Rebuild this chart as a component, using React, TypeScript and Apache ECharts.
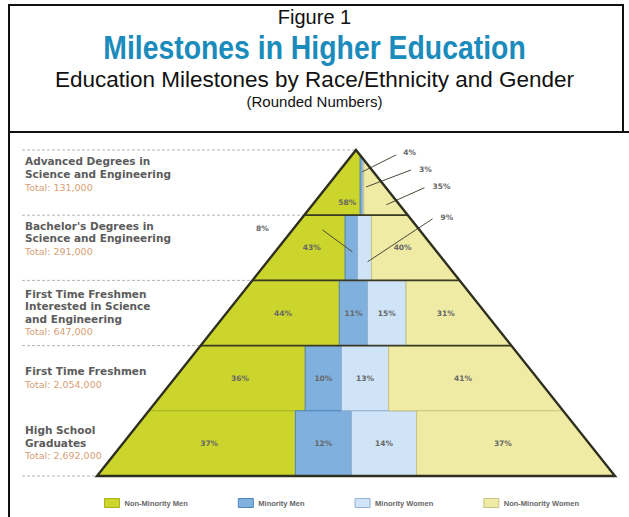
import React, { useEffect, useRef } from "react";
import * as echarts from "echarts";

// ---------- data ----------
const tierNames = [
  ["Advanced Degrees in", "Science and Engineering"],
  ["Bachelor's Degrees in", "Science and Engineering"],
  ["First Time Freshmen", "Interested in Science", "and Engineering"],
  ["First Time Freshmen"],
  ["High School", "Graduates"],
];
const tierTotals = ["Total: 131,000", "Total: 291,000", "Total: 647,000", "Total: 2,054,000", "Total: 2,692,000"];
const groups = ["Non-Minority Men", "Minority Men", "Minority Women", "Non-Minority Women"];
const nonMinorityMen = [58, 43, 44, 36, 37];
const minorityMen = [4, 8, 11, 10, 12];
const minorityWomen = [3, 9, 15, 13, 14];
const nonMinorityWomen = [35, 40, 31, 41, 37];
const groupValues = [nonMinorityMen, minorityMen, minorityWomen, nonMinorityWomen];

// ---------- style / layout ----------
const COLORS = ["#cbd52b", "#80b1de", "#cfe4f7", "#efeba4"];
const STROKES = ["#aab322", "#4f86bd", "#93b3d2", "#c9c384"];
const LEFT_LABEL_DY = [-8, -9, 0, 0, 0];
const LABEL_Y_FRAC = [0.2, 0.5, 0.5, 0.5, 0.5];
const CALLOUTS = [
  { tier: 0, group: 1, lx: 42, ly: -33, sx: 35, sy: -31, ex: 1, ey: -14, align: "left" },
  { tier: 0, group: 2, lx: 56, ly: -18, sx: 48, sy: -17, ex: 3, ey: 0, align: "left" },
  { tier: 0, group: 3, lx: 54, ly: -10, sx: 46, sy: -9, ex: 8, ey: 8, align: "left" },
  { tier: 1, group: 1, lx: -89, ly: -19, sx: -29, sy: -18, ex: 1, ey: 4, align: "center" },
  { tier: 1, group: 2, lx: 76, ly: -30, sx: 68, sy: -29, ex: 3, ey: 14, align: "left" },
];
const NT = tierNames.length;
const HALF = 50;
const LABEL_FONT = "DejaVu Sans, Verdana, sans-serif";
const ARIAL = "Arial, 'Liberation Sans', sans-serif";

function clip(poly: number[][], a: number, b: number, c: number) {
  const out: number[][] = [];
  for (let k = 0; k < poly.length; k++) {
    const P = poly[k];
    const Q = poly[(k + 1) % poly.length];
    const fp = a * P[0] + b * P[1] + c;
    const fq = a * Q[0] + b * Q[1] + c;
    if (fp >= 0) out.push(P);
    if (fp >= 0 !== fq >= 0) {
      const t = fp / (fp - fq);
      out.push([P[0] + t * (Q[0] - P[0]), P[1] + t * (Q[1] - P[1])]);
    }
  }
  return out;
}

function segmentPolygon(tier: number, group: number) {
  const yb = NT - 1 - tier;
  const yt = NT - tier;
  const ym = (yb + yt) / 2;
  const k = HALF / NT;
  const hw = k * (NT - ym);
  const vals = groupValues.map((v) => v[tier]);
  const sum = vals.reduce((s, v) => s + v, 0);
  let cum = 0;
  for (let g = 0; g < group; g++) cum += vals[g];
  const xa = group === 0 ? -HALF - 10 : -hw + (2 * hw * cum) / sum;
  const xb = group === vals.length - 1 ? HALF + 10 : -hw + (2 * hw * (cum + vals[group])) / sum;
  let poly = [
    [xa, yb],
    [xb, yb],
    [xb, yt],
    [xa, yt],
  ];
  poly = clip(poly, 1, -k, HALF);
  poly = clip(poly, -1, -k, HALF);
  return { poly, yb, yt };
}

export default function App() {
  const ref = useRef<HTMLDivElement>(null);
  useEffect(() => {
    if (!ref.current) return;
    const chart = echarts.init(ref.current, null, { renderer: "svg" });

    const groupSeries = groups.map((name, g) => ({
      type: "custom",
      name,
      coordinateSystem: "cartesian2d",
      clip: false,
      itemStyle: { color: COLORS[g] },
      z: 2,
      data: groupValues[g].map((v, i) => [i, v]),
      renderItem: (params: any, api: any) => {
        const tier = params.dataIndex;
        const { poly, yb } = segmentPolygon(tier, g);
        const pts = poly.map((p) => api.coord(p));
        if (!pts.length) return null;
        const cx = pts.reduce((s, p) => s + p[0], 0) / pts.length;
        const cy = pts.reduce((s, p) => s + p[1], 0) / pts.length;
        const children: any[] = [
          {
            type: "polygon",
            shape: { points: pts },
            style: { fill: COLORS[g], stroke: STROKES[g], lineWidth: 1 },
          },
        ];
        const text = api.value(1) + "%";
        const co = CALLOUTS.find((c) => c.tier === tier && c.group === g);
        const tstyle = {
          text,
          fill: "#666",
          fontSize: 7.5,
          fontWeight: "bold",
          fontFamily: LABEL_FONT,
          verticalAlign: "middle",
        };
        if (co) {
          children.push({
            type: "line",
            shape: { x1: cx + co.sx, y1: cy + co.sy, x2: cx + co.ex, y2: cy + co.ey },
            style: { stroke: "#4a4a3a", lineWidth: 1 },
            z2: 20,
          });
          children.push({
            type: "text",
            x: cx + co.lx,
            y: cy + co.ly,
            z2: 20,
            style: { ...tstyle, align: co.align },
          });
        } else {
          const ly = api.coord([0, yb + LABEL_Y_FRAC[tier]])[1];
          children.push({
            type: "text",
            x: cx,
            y: ly,
            z2: 20,
            style: { ...tstyle, align: "center" },
          });
        }
        return { type: "group", children };
      },
    }));

    const frameSeries = {
      type: "custom",
      name: "frame",
      coordinateSystem: "cartesian2d",
      clip: false,
      silent: true,
      z: 5,
      data: [[0, 0]],
      renderItem: (_params: any, api: any) => {
        const k = HALF / NT;
        const children: any[] = [];
        const left = api.coord([-HALF, 0]);
        const apex = api.coord([0, NT]);
        const right = api.coord([HALF, 0]);
        [NT, NT - 1, NT - 2, NT - 3, 0].forEach((y) => {
          const p = api.coord([-k * (NT - y), y]);
          children.push({
            type: "line",
            shape: { x1: 22, y1: p[1], x2: p[0], y2: p[1] },
            style: { stroke: "#b5b5b5", lineWidth: 1, lineDash: [3, 2] },
          });
        });
        [NT - 1, NT - 2, NT - 3].forEach((y) => {
          const a = api.coord([-k * (NT - y), y]);
          const b = api.coord([k * (NT - y), y]);
          children.push({
            type: "line",
            shape: { x1: a[0], y1: a[1], x2: b[0], y2: b[1] },
            style: { stroke: "#3a3a22", lineWidth: 1.8 },
          });
        });
        children.push({
          type: "polygon",
          shape: { points: [left, apex, right] },
          style: { fill: "none", stroke: "#2f2f1f", lineWidth: 2.4 },
        });
        tierNames.forEach((lines, i) => {
          const yc = api.coord([0, NT - i - 0.5])[1] + LEFT_LABEL_DY[i];
          const txt = lines.map((l) => "{n|" + l + "}").join("\n") + "\n{t|" + tierTotals[i] + "}";
          children.push({
            type: "text",
            x: 25,
            y: yc,
            style: {
              text: txt,
              align: "left",
              verticalAlign: "middle",
              rich: {
                n: { fontSize: 10.5, fontWeight: "bold", fill: "#5c5c5c", fontFamily: LABEL_FONT, lineHeight: 12.5 },
                t: { fontSize: 9.5, fill: "#d6a074", fontFamily: LABEL_FONT, lineHeight: 14 },
              },
            },
          });
        });
        return { type: "group", children };
      },
    };

    const CX = 314.5;
    chart.setOption({
      animation: false,
      backgroundColor: "#ffffff",
      grid: { left: 97, right: 14, top: 150, bottom: 41 },
      xAxis: { type: "value", min: -HALF, max: HALF, show: false },
      yAxis: { type: "value", min: 0, max: NT, show: false },
      legend: {
        data: groups.map((name, g) => ({
          name,
          itemStyle: { color: COLORS[g], borderColor: STROKES[g], borderWidth: 1 },
        })),
        left: 99,
        top: 493,
        icon: "rect",
        itemWidth: 15,
        itemHeight: 9,
        itemGap: 50,
        selectedMode: false,
        textStyle: { fontSize: 7.5, fontWeight: "bold", color: "#666", fontFamily: ARIAL },
      },
      graphic: [
        { type: "line", shape: { x1: 9, y1: 5, x2: 623, y2: 5 }, style: { stroke: "#111", lineWidth: 2 } },
        { type: "line", shape: { x1: 9, y1: 4, x2: 9, y2: 517 }, style: { stroke: "#111", lineWidth: 2 } },
        { type: "line", shape: { x1: 623, y1: 4, x2: 623, y2: 132 }, style: { stroke: "#111", lineWidth: 2 } },
        { type: "line", shape: { x1: 9, y1: 132, x2: 629, y2: 132 }, style: { stroke: "#111", lineWidth: 2 } },
        {
          type: "text",
          x: CX,
          y: 17,
          style: { text: "Figure 1", fontSize: 20, fill: "#111", fontFamily: ARIAL, align: "center", verticalAlign: "middle" },
        },
        {
          type: "text",
          x: CX,
          y: 48,
          scaleX: 0.86,
          style: {
            text: "Milestones in Higher Education",
            fontSize: 33,
            fontWeight: "bold",
            fill: "#1a8bbb",
            fontFamily: ARIAL,
            align: "center",
            verticalAlign: "middle",
          },
        },
        {
          type: "text",
          x: CX,
          y: 79,
          style: {
            text: "Education Milestones by Race/Ethnicity and Gender",
            fontSize: 22.5,
            fill: "#111",
            fontFamily: ARIAL,
            align: "center",
            verticalAlign: "middle",
          },
        },
        {
          type: "text",
          x: CX,
          y: 101,
          style: {
            text: "(Rounded Numbers)",
            fontSize: 15,
            fill: "#111",
            fontFamily: ARIAL,
            align: "center",
            verticalAlign: "middle",
          },
        },
      ],
      series: [...groupSeries, frameSeries],
    });
    return () => chart.dispose();
  }, []);
  return <div ref={ref} style={{ position: "absolute", left: 0, top: 0, width: 629, height: 517 }} />;
}
